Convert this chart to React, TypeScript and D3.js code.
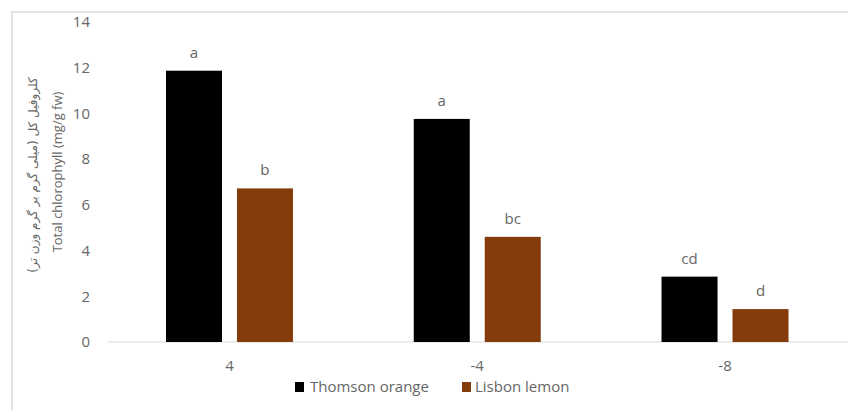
import React from "react";
import * as d3 from "d3";

const categories = ["4", "-4", "-8"];
const seriesNames = ["Thomson orange", "Lisbon lemon"];
const thomsonValues = [11.87, 9.76, 2.86];
const lisbonValues = [6.72, 4.6, 1.44];
const thomsonLetters = ["a", "a", "cd"];
const lisbonLetters = ["b", "bc", "d"];
const yTicks = [0, 2, 4, 6, 8, 10, 12, 14];
const colors = ["#000000", "#843C0C"];
const titleFa = "کلروفیل کل (میلی گرم بر گرم وزن تر)";
const titleEn = "Total chlorophyll (mg/g fw)";

export default function App() {
  const W = 848, H = 410;
  const font = "'Open Sans', sans-serif";
  const textColor = "#666666";
  const y = d3.scaleLinear().domain([0, 14]).range([342, 22]);
  const x0 = d3.scaleBand<string>().domain(categories).range([105.6, 848.9]).paddingInner(0.4874).paddingOuter(0.2437);
  const x1 = d3.scaleBand<string>().domain(seriesNames).range([0, x0.bandwidth()]).paddingInner(0.211);
  const values = [thomsonValues, lisbonValues];
  const letters = [thomsonLetters, lisbonLetters];
  return (
    <svg width={W} height={H} style={{ position: "absolute", left: 0, top: 0 }} fontFamily={font}>
      <rect x={0} y={0} width={W} height={H} fill="#fff" />
      <rect x={12} y={12} width={W} height={H} fill="#fff" stroke="#d9d9d9" strokeWidth={1.5} />
      <line x1={108} x2={W} y1={y(0)} y2={y(0)} stroke="#d9d9d9" strokeWidth={1} />
      {yTicks.map((t) => (
        <text key={t} x={90} y={y(t)} dy="0.35em" textAnchor="end" fontSize={15} fill={textColor}>
          {t}
        </text>
      ))}
      <g transform={`translate(37,175) rotate(-90)`}>
        <text x={0} y={0} textAnchor="middle" fontSize={12} fill={textColor} fontFamily="'DejaVu Sans', sans-serif" direction="rtl">
          {titleFa}
        </text>
      </g>
      <g transform={`translate(62,172) rotate(-90)`}>
        <text x={0} y={0} textAnchor="middle" fontSize={13} fill={textColor}>
          {titleEn}
        </text>
      </g>
      {categories.map((c, ci) => (
        <g key={c} transform={`translate(${x0(c)},0)`}>
          {seriesNames.map((s, si) => {
            const v = values[si][ci];
            const bx = x1(s)!;
            return (
              <g key={s}>
                <rect x={bx} y={y(v)} width={x1.bandwidth()} height={y(0) - y(v)} fill={colors[si]} />
                <text x={bx + x1.bandwidth() / 2} y={y(v) - 13} textAnchor="middle" fontSize={15} fill={textColor}>
                  {letters[si][ci]}
                </text>
              </g>
            );
          })}
          <text x={x0.bandwidth() / 2} y={366} dy="0.35em" textAnchor="middle" fontSize={15} fill={textColor}>
            {c}
          </text>
        </g>
      ))}
      <g>
        <rect x={295} y={382} width={9} height={10} fill={colors[0]} />
        <text x={310} y={387} dy="0.35em" fontSize={15} fill={textColor}>{seriesNames[0]}</text>
        <rect x={462} y={382} width={9} height={10} fill={colors[1]} />
        <text x={475} y={387} dy="0.35em" fontSize={15} fill={textColor}>{seriesNames[1]}</text>
      </g>
    </svg>
  );
}
